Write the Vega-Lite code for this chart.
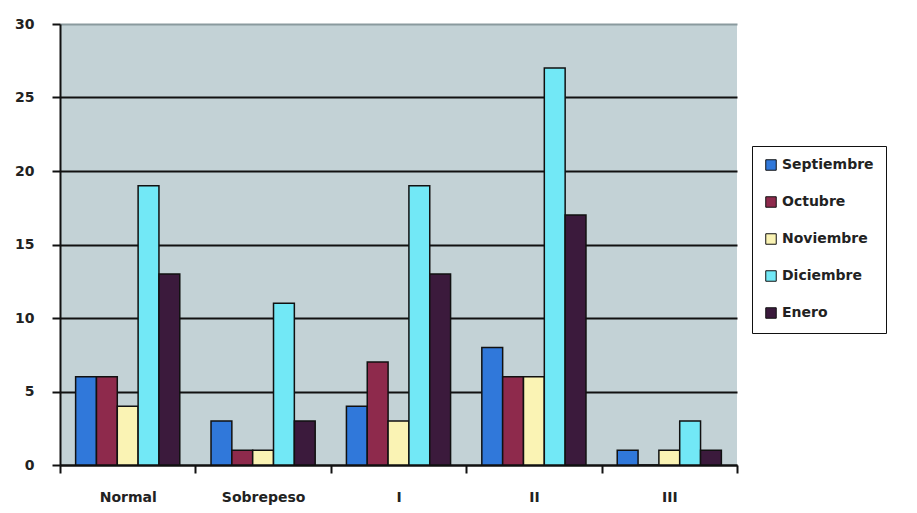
{
  "$schema": "https://vega.github.io/schema/vega-lite/v6.json",
  "width": 677,
  "height": 441,
  "autosize": {"type": "none"},
  "padding": {"left": 60, "top": 24, "right": 180, "bottom": 48},
  "background": "white",
  "config": {
    "view": {"fill": "#c3d2d6", "stroke": null},
    "font": "DejaVu Sans"
  },
  "data": {
    "values": [
      {"categoria": "Normal", "mes": "Septiembre", "valor": 6},
      {"categoria": "Normal", "mes": "Octubre", "valor": 6},
      {"categoria": "Normal", "mes": "Noviembre", "valor": 4},
      {"categoria": "Normal", "mes": "Diciembre", "valor": 19},
      {"categoria": "Normal", "mes": "Enero", "valor": 13},
      {"categoria": "Sobrepeso", "mes": "Septiembre", "valor": 3},
      {"categoria": "Sobrepeso", "mes": "Octubre", "valor": 1},
      {"categoria": "Sobrepeso", "mes": "Noviembre", "valor": 1},
      {"categoria": "Sobrepeso", "mes": "Diciembre", "valor": 11},
      {"categoria": "Sobrepeso", "mes": "Enero", "valor": 3},
      {"categoria": "I", "mes": "Septiembre", "valor": 4},
      {"categoria": "I", "mes": "Octubre", "valor": 7},
      {"categoria": "I", "mes": "Noviembre", "valor": 3},
      {"categoria": "I", "mes": "Diciembre", "valor": 19},
      {"categoria": "I", "mes": "Enero", "valor": 13},
      {"categoria": "II", "mes": "Septiembre", "valor": 8},
      {"categoria": "II", "mes": "Octubre", "valor": 6},
      {"categoria": "II", "mes": "Noviembre", "valor": 6},
      {"categoria": "II", "mes": "Diciembre", "valor": 27},
      {"categoria": "II", "mes": "Enero", "valor": 17},
      {"categoria": "III", "mes": "Septiembre", "valor": 1},
      {"categoria": "III", "mes": "Octubre", "valor": 0},
      {"categoria": "III", "mes": "Noviembre", "valor": 1},
      {"categoria": "III", "mes": "Diciembre", "valor": 3},
      {"categoria": "III", "mes": "Enero", "valor": 1}
    ]
  },
  "mark": {"type": "bar", "stroke": "#111", "strokeWidth": 1.5, "opacity": 1},
  "encoding": {
    "x": {
      "field": "categoria",
      "type": "nominal",
      "sort": ["Normal", "Sobrepeso", "I", "II", "III"],
      "scale": {"paddingInner": 0, "paddingOuter": 0},
      "axis": {
        "title": null,
        "labelAngle": 0,
        "labelFont": "DejaVu Sans",
        "labelFontWeight": "bold",
        "labelFontSize": 14,
        "labelColor": "#222",
        "labelPadding": 17,
        "domainColor": "#111",
        "domainWidth": 2,
        "tickBand": "extent",
        "tickColor": "#111",
        "tickWidth": 2,
        "tickSize": 8
      }
    },
    "xOffset": {
      "field": "mes",
      "type": "nominal",
      "sort": ["Septiembre", "Octubre", "Noviembre", "Diciembre", "Enero"],
      "scale": {"paddingInner": 0, "paddingOuter": 0.75}
    },
    "y": {
      "field": "valor",
      "type": "quantitative",
      "scale": {"domain": [0, 30], "nice": false},
      "axis": {
        "title": null,
        "values": [0, 5, 10, 15, 20, 25, 30],
        "labelFont": "DejaVu Sans",
        "labelFontWeight": "bold",
        "labelFontSize": 14,
        "labelColor": "#222",
        "labelPadding": 18,
        "domainColor": "#111",
        "domainWidth": 2,
        "tickColor": "#111",
        "tickWidth": 2,
        "tickSize": 8,
        "grid": true,
        "gridColor": {"condition": {"test": "datum.value == 30", "value": "#8a9a9e"}, "value": "#111"},
        "gridWidth": 2
      }
    },
    "color": {
      "field": "mes",
      "type": "nominal",
      "sort": ["Septiembre", "Octubre", "Noviembre", "Diciembre", "Enero"],
      "scale": {
        "domain": ["Septiembre", "Octubre", "Noviembre", "Diciembre", "Enero"],
        "range": ["#3078da", "#8e2a4c", "#faf3b4", "#72e8f6", "#3b1a3c"]
      },
      "legend": {
        "title": null,
        "orient": "none",
        "legendX": 692,
        "legendY": 122,
        "fillColor": "white",
        "strokeColor": "#111",
        "padding": 12,
        "symbolType": "square",
        "symbolSize": 110,
        "symbolStrokeColor": "#111",
        "symbolStrokeWidth": 1,
        "symbolOpacity": 1,
        "labelFont": "DejaVu Sans",
        "labelFontWeight": "bold",
        "labelFontSize": 14,
        "labelColor": "#222",
        "labelOffset": 4,
        "rowPadding": 21,
        "labelLimit": 200
      }
    }
  }
}
